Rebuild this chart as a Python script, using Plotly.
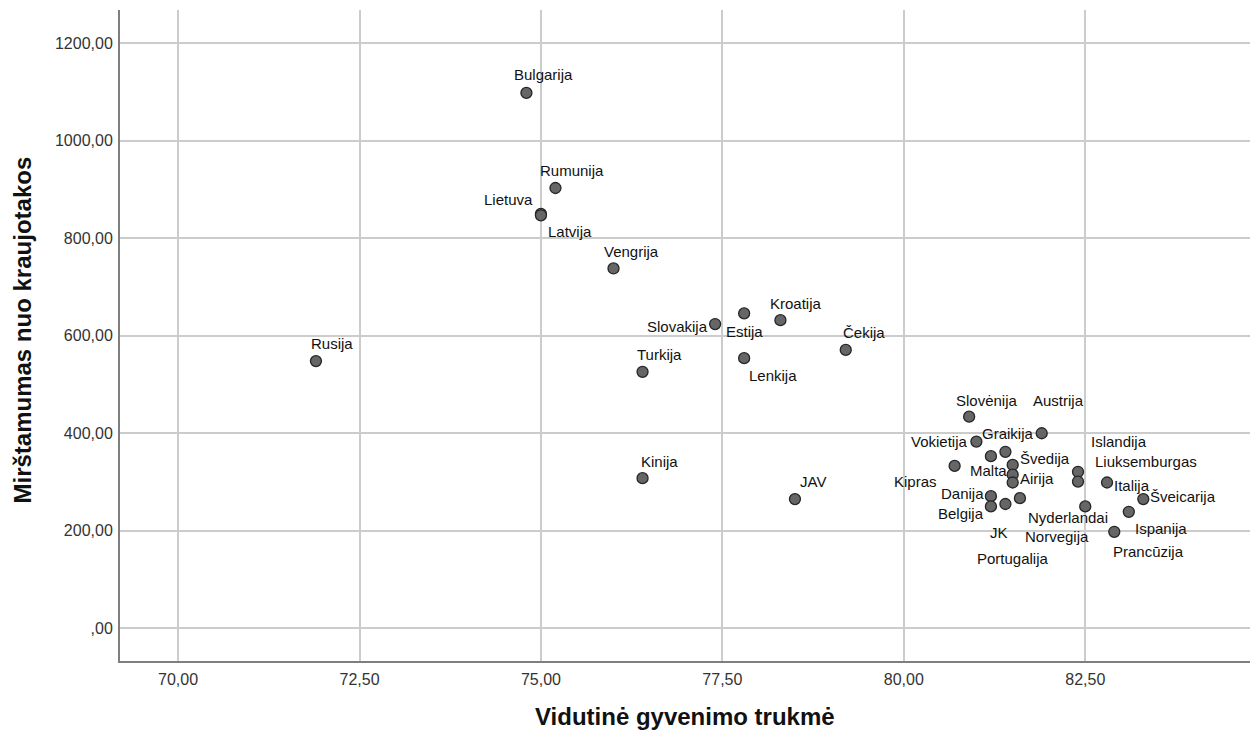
import plotly.graph_objects as go

countries = ["Rusija", "Bulgarija", "Rumunija", "Lietuva", "Latvija", "Vengrija",
             "Slovakija", "Estija", "Kroatija", "Čekija", "Lenkija", "Turkija",
             "Kinija", "JAV", "Slovėnija", "Austrija", "Vokietija", "Graikija",
             "Malta", "Švedija", "Kipras", "Airija", "Portugalija", "Danija",
             "Belgija", "JK", "Nyderlandai", "Islandija", "Liuksemburgas",
             "Italija", "Šveicarija", "Ispanija", "Norvegija", "Prancūzija"]

life_expectancy = [71.9, 74.8, 75.2, 75.0, 75.0, 76.0,
                   77.4, 77.8, 78.3, 79.2, 77.8, 76.4,
                   76.4, 78.5, 80.9, 81.9, 81.0, 81.4,
                   81.2, 81.5, 80.7, 81.5, 81.5, 81.2,
                   81.2, 81.4, 81.6, 82.4, 82.4,
                   82.8, 83.3, 83.1, 82.5, 82.9]

mortality = [548, 1098, 903, 850, 847, 738,
             624, 646, 632, 571, 554, 526,
             308, 265, 434, 400, 383, 362,
             353, 335, 333, 315, 299, 271,
             250, 255, 267, 321, 301,
             299, 265, 239, 250, 198]

x_ticks = [70.0, 72.5, 75.0, 77.5, 80.0, 82.5]
x_tick_labels = ["70,00", "72,50", "75,00", "77,50", "80,00", "82,50"]
y_ticks = [0, 200, 400, 600, 800, 1000, 1200]
y_tick_labels = [",00", "200,00", "400,00", "600,00", "800,00", "1000,00", "1200,00"]

# label offsets in pixels (dx right, dy up) relative to each point
label_offsets = {
    "Rusija": (16, 18), "Bulgarija": (17, 18), "Rumunija": (17, 17),
    "Lietuva": (-32, 14), "Latvija": (29, -16), "Vengrija": (18, 17),
    "Slovakija": (-38, -2), "Estija": (0, -18), "Kroatija": (16, 17),
    "Čekija": (18, 17), "Lenkija": (29, -17), "Turkija": (17, 17),
    "Kinija": (17, 17), "JAV": (18, 18), "Slovėnija": (18, 16),
    "Austrija": (17, 33), "Vokietija": (-37, 0), "Graikija": (3, 18),
    "Malta": (-2, -14), "Švedija": (32, 6), "Kipras": (-39, -16),
    "Airija": (24, -4), "Portugalija": (0, -76), "Danija": (-28, 3),
    "Belgija": (-30, -7), "JK": (-6, -29), "Nyderlandai": (48, -19),
    "Islandija": (41, 30), "Liuksemburgas": (68, 20), "Italija": (25, -3),
    "Šveicarija": (40, 3), "Ispanija": (32, -17), "Norvegija": (-28, -30),
    "Prancūzija": (34, -20),
}

FONT = "Liberation Sans, Arial, sans-serif"

fig = go.Figure()
fig.add_trace(go.Scatter(
    x=life_expectancy, y=mortality, mode="markers",
    marker=dict(size=11, color="#666666", line=dict(color="#262626", width=1.3)),
    hoverinfo="text", text=countries, showlegend=False,
))

annotations = []
for name, xv, yv in zip(countries, life_expectancy, mortality):
    dx, dy = label_offsets[name]
    annotations.append(dict(
        x=xv, y=yv, xref="x", yref="y", text=name, showarrow=False,
        xshift=dx, yshift=dy, xanchor="center", yanchor="middle",
        font=dict(family=FONT, size=15, color="#111111"),
    ))

annotations.append(dict(
    x=0.5, y=-0.0845, xref="paper", yref="paper", text="<b>Vidutinė gyvenimo trukmė</b>",
    showarrow=False, xanchor="center", yanchor="middle",
    font=dict(family=FONT, size=24, color="#111111"),
))
annotations.append(dict(
    x=-0.0867, y=0.5077, xref="paper", yref="paper", text="<b>Mirštamumas nuo kraujotakos</b>",
    showarrow=False, xanchor="center", yanchor="middle", textangle=-90,
    font=dict(family=FONT, size=24, color="#111111"),
))

fig.update_layout(
    width=1250, height=729,
    margin=dict(l=112, r=8, t=2, b=76),
    paper_bgcolor="white", plot_bgcolor="white",
    annotations=annotations,
    font=dict(family=FONT),
    xaxis=dict(
        range=[69.2, 84.77], tickvals=x_ticks, ticktext=x_tick_labels,
        showgrid=True, gridcolor="#cccccc", gridwidth=1.5,
        showline=True, linecolor="#7f7f7f", linewidth=2,
        zeroline=False, ticks="", ticklabelstandoff=3,
        tickfont=dict(family=FONT, size=16, color="#333333"),
    ),
    yaxis=dict(
        range=[-67, 1268], tickvals=y_ticks, ticktext=y_tick_labels,
        showgrid=True, gridcolor="#cccccc", gridwidth=1.5,
        showline=True, linecolor="#7f7f7f", linewidth=2,
        zeroline=False, ticks="", ticklabelstandoff=2,
        tickfont=dict(family=FONT, size=16, color="#333333"),
    ),
)

fig.write_html("out.html")
